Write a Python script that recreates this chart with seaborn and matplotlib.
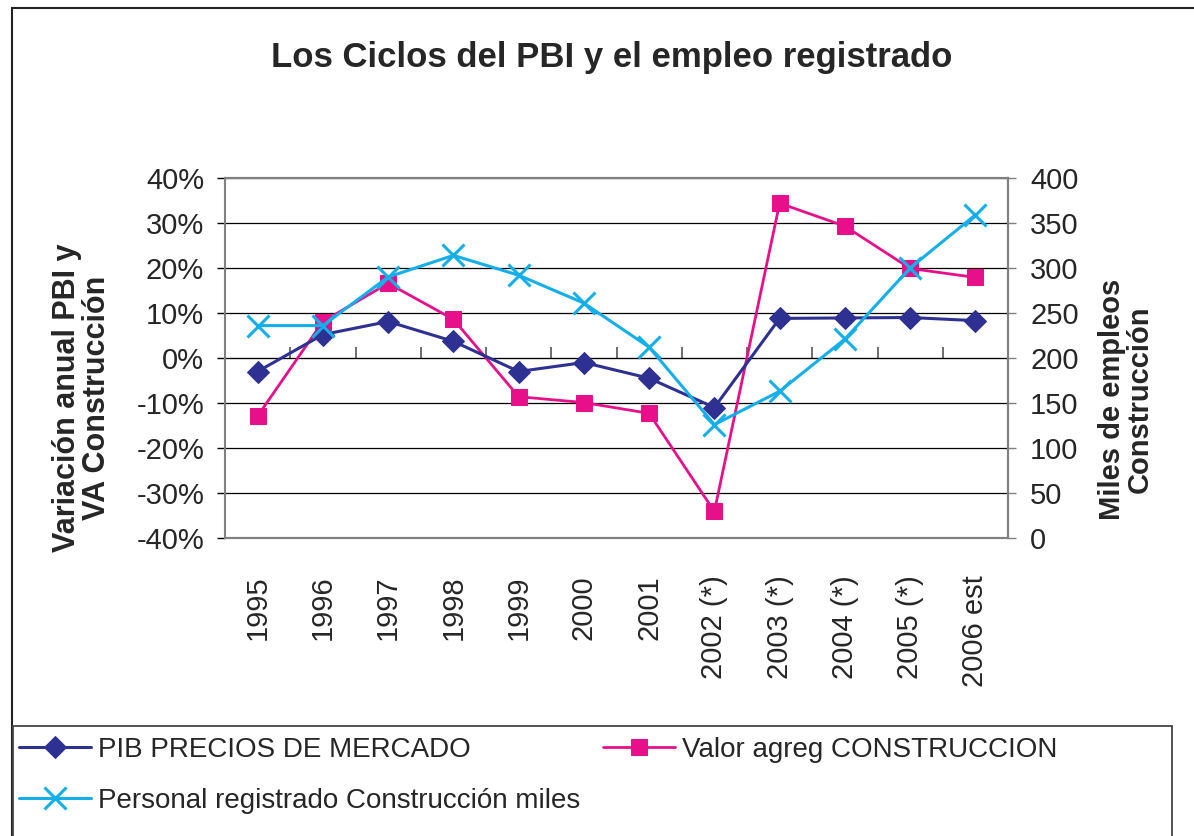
import matplotlib
matplotlib.use("Agg")
import matplotlib.pyplot as plt
import matplotlib.patches as mpatches
import matplotlib.ticker as mticker
import seaborn as sns
import pandas as pd

# datos
anios = ["1995", "1996", "1997", "1998", "1999", "2000", "2001",
         "2002 (*)", "2003 (*)", "2004 (*)", "2005 (*)", "2006 est"]
pib = [-3.0, 5.2, 8.1, 3.7, -3.0, -1.0, -4.5, -11.0, 8.8, 8.9, 9.0, 8.3]
va_construccion = [-12.9, 8.1, 16.6, 8.6, -8.6, -9.9, -12.3, -34.1, 34.4, 29.3, 19.9, 17.9]
personal_miles = [236, 236, 290, 314, 292, 261, 212, 126, 163, 221, 300, 359]

df = pd.DataFrame({"Año": anios, "PIB": pib, "VA": va_construccion,
                   "Personal": personal_miles})

sns.set_style("white")
plt.rcParams["font.family"] = ["Liberation Sans", "DejaVu Sans"]

AZUL = "#2E3192"
MAGENTA = "#E8108A"
CIAN = "#14AEE8"
GRIS = "#808080"

fig = plt.figure(figsize=(11.94, 8.36), dpi=100)
ax = fig.add_axes([225 / 1194, 1 - 538 / 836, (1008 - 225) / 1194, (538 - 178) / 836])
ax2 = ax.twinx()

sns.lineplot(data=df, x="Año", y="PIB", ax=ax, color=AZUL, marker="D",
             markersize=11, markeredgecolor=AZUL, linewidth=2.2,
             label="PIB PRECIOS DE MERCADO", sort=False, zorder=4)
sns.lineplot(data=df, x="Año", y="VA", ax=ax, color=MAGENTA, marker="s",
             markersize=12, markeredgecolor=MAGENTA, linewidth=2.0,
             label="Valor agreg CONSTRUCCION", sort=False, zorder=3)
sns.lineplot(data=df, x="Año", y="Personal", ax=ax2, color=CIAN, marker="x",
             markersize=16, markeredgecolor=CIAN, markeredgewidth=2.2, linewidth=2.2,
             label="Personal registrado Construcción miles", sort=False, zorder=3)

# eje izquierdo
ax.set_ylim(-40, 40)
ax.set_xlim(-0.5, len(anios) - 0.5)
ax.yaxis.set_major_locator(mticker.MultipleLocator(10))
ax.yaxis.set_major_formatter(mticker.FuncFormatter(lambda v, p: f"{v:.0f}%"))
ax.grid(axis="y", color="black", linewidth=0.9)
ax.set_axisbelow(True)
ax.tick_params(axis="y", direction="out", length=6, width=1, color="black",
               labelsize=21, pad=9)
ax.tick_params(axis="x", length=0, labelsize=21, pad=27, labelrotation=90)
for lbl in ax.get_xticklabels():
    lbl.set_va("top")
ax.set_ylabel("")
ax.set_xlabel("Años", fontsize=20, labelpad=32)

# eje derecho
ax2.set_ylim(0, 400)
ax2.yaxis.set_major_locator(mticker.MultipleLocator(50))
ax2.tick_params(axis="y", direction="out", length=6, width=1, color=GRIS,
                labelsize=21, pad=10)
ax2.set_ylabel("")

for a in (ax, ax2):
    for s in a.spines.values():
        s.set_color(GRIS)
        s.set_linewidth(1.5)
ax.spines["left"].set_color("black")
ax.spines["left"].set_linewidth(1.3)

# eje de categorías cruzando en 0%
eje0 = ax.secondary_xaxis(0.5)
eje0.set_xticks([i + 0.5 for i in range(len(anios) - 1)])
eje0.set_xticklabels([])
eje0.tick_params(direction="out", length=8, width=1.2, color="#555555")
eje0.spines["bottom"].set_color(GRIS)
eje0.spines["bottom"].set_linewidth(1.5)

# leyenda
h1, l1 = ax.get_legend_handles_labels()
h2, l2 = ax2.get_legend_handles_labels()
ax.get_legend().remove()
ax2.get_legend().remove()
handles = [h1[0], h2[0], h1[1]]
labels = [l1[0], l2[0], l1[1]]

caja = mpatches.Rectangle((13 / 1194, -0.02), (1172 - 13) / 1194, 0.02 + (836 - 726) / 836,
                          transform=fig.transFigure, facecolor="white",
                          edgecolor="#444444", linewidth=1.3, zorder=5)
fig.patches.append(caja)
leg = fig.legend(handles, labels, loc="upper left",
                 bbox_to_anchor=(19 / 1194, 1 - 737 / 836), ncol=2, frameon=False,
                 fontsize=20, handlelength=2.6, handletextpad=0.25,
                 columnspacing=0.8, labelspacing=0.9, borderpad=0,
                 borderaxespad=0)
leg.set_zorder(6)

# marco exterior
marco = mpatches.Rectangle((12 / 1194, -0.05), 1.1, 1.05 - 8 / 836,
                           transform=fig.transFigure, fill=False,
                           edgecolor="#222222", linewidth=1.5, zorder=0)
fig.patches.append(marco)

fig.text(612 / 1194, 1 - 58 / 836, "Los Ciclos del PBI y el empleo registrado",
         ha="center", va="center", fontsize=25, fontweight="bold")
fig.text(82 / 1194, 1 - 398 / 836, "Variación anual PBI y\nVA Construcción",
         rotation=90, ha="center", va="center", multialignment="center",
         fontsize=22, fontweight="bold", linespacing=1.0)
fig.text(1126 / 1194, 1 - 399 / 836, "Miles de empleos\nConstrucción",
         rotation=90, ha="center", va="center", multialignment="center",
         fontsize=21, fontweight="bold", linespacing=1.0)

fig.savefig("out.png", dpi=100)
